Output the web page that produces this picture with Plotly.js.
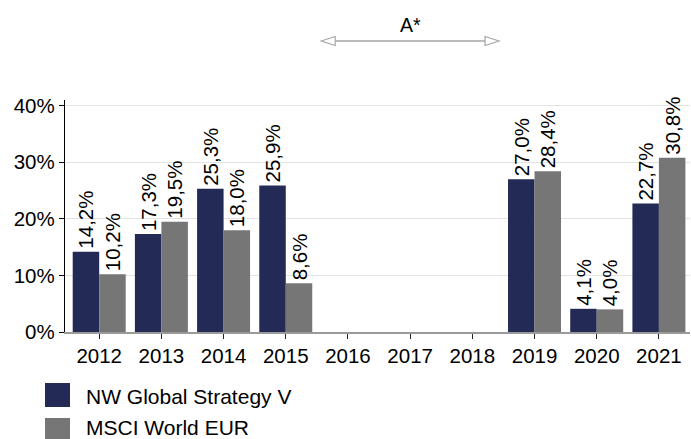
<!DOCTYPE html>
<html>
<head>
<meta charset="utf-8">
<script src="https://cdn.plot.ly/plotly-3.0.1.min.js"></script>
<style>html,body{margin:0;padding:0;background:#fff;}#chart{width:691px;height:439px;}</style>
</head>
<body>
<div id="chart"></div>
<script>
const years = ['2012','2013','2014','2015','2016','2017','2018','2019','2020','2021'];
const fundName = 'NW Global Strategy V';
const fundValues = [14.2, 17.3, 25.3, 25.9, null, null, null, 27.0, 4.1, 22.7];
const indexName = 'MSCI World EUR';
const indexValues = [10.2, 19.5, 18.0, 8.6, null, null, null, 28.4, 4.0, 30.8];
const yTicks = [0, 10, 20, 30, 40];
const yTickLabels = ['0%', '10%', '20%', '30%', '40%'];
const arrowLabel = 'A*';
const arrowFrom = '2016', arrowTo = '2018';

const NAVY = '#232a55', GRAY = '#767676';
const FONT = 'Arial, "Liberation Sans", sans-serif';
const FS = 20.5;
const xRange = [-0.55, 9.5];
const W = 691, H = 439, mL = 65, mR = 1, mT = 100, mB = 107;
const plotW = W - mL - mR, plotH = H - mT - mB;
function xPaperFromPx(px){ return (px - mL) / plotW; }
function yPaperFromPx(py){ return (H - mB - py) / plotH; }
function xPaperFromIdx(i){ return (i - xRange[0]) / (xRange[1] - xRange[0]); }

function barTrace(name, vals, color){
  return {
    type: 'bar', name: name, x: years, y: vals,
    marker: {color: color},
    texttemplate: '%{y:.1f}%', textposition: 'outside', textangle: -90,
    textfont: {family: FONT, size: FS, color: '#000'},
    constraintext: 'none', cliponaxis: false, hoverinfo: 'skip', showlegend: false
  };
}

const data = [barTrace(fundName, fundValues, NAVY), barTrace(indexName, indexValues, GRAY)];

// arrow spanning the missing years
const i0 = years.indexOf(arrowFrom), i1 = years.indexOf(arrowTo);
const mid = (i0 + i1) / 2, half = (i1 - i0) / 2 + 0.43;
const ax0 = xPaperFromIdx(mid - half), ax1 = xPaperFromIdx(mid + half);
const ay = yPaperFromPx(41);
const headW = 14 / plotW, headH = 4.5 / plotH;
const ARW = '#a6a6a6';

const shapes = [
  {type:'line', xref:'paper', yref:'paper', x0: ax0 + headW, x1: ax1 - headW, y0: ay, y1: ay, line:{color:ARW, width:1.5}},
  {type:'path', xref:'paper', yref:'paper', path:`M ${ax0} ${ay} L ${ax0+headW} ${ay+headH} L ${ax0+headW} ${ay-headH} Z`, line:{color:ARW, width:1.2}, fillcolor:'#fff'},
  {type:'path', xref:'paper', yref:'paper', path:`M ${ax1} ${ay} L ${ax1-headW} ${ay+headH} L ${ax1-headW} ${ay-headH} Z`, line:{color:ARW, width:1.2}, fillcolor:'#fff'},
  // legend swatches
  {type:'rect', xref:'paper', yref:'paper', x0:xPaperFromPx(45), x1:xPaperFromPx(70), y0:yPaperFromPx(383), y1:yPaperFromPx(407), fillcolor:NAVY, line:{width:0}},
  {type:'rect', xref:'paper', yref:'paper', x0:xPaperFromPx(45), x1:xPaperFromPx(70), y0:yPaperFromPx(418), y1:yPaperFromPx(445), fillcolor:GRAY, line:{width:0}}
];

const annotations = [
  {xref:'paper', yref:'paper', x: xPaperFromIdx(mid), y: yPaperFromPx(25), text: arrowLabel, showarrow:false, xanchor:'center', yanchor:'middle', font:{family:FONT, size:FS-1, color:'#000'}},
  {xref:'paper', yref:'paper', x: xPaperFromPx(85), y: yPaperFromPx(396), text: fundName, showarrow:false, xanchor:'left', yanchor:'middle', borderpad:0, font:{family:FONT, size:21, color:'#000'}},
  {xref:'paper', yref:'paper', x: xPaperFromPx(85), y: yPaperFromPx(427), text: indexName, showarrow:false, xanchor:'left', yanchor:'middle', borderpad:0, font:{family:FONT, size:21, color:'#000'}}
];

const layout = {
  width: W, height: H,
  margin: {l: mL, r: mR, t: mT, b: mB, pad: 0},
  paper_bgcolor: '#fff', plot_bgcolor: '#fff',
  separators: ',.',
  barmode: 'group', bargap: 0.148, bargroupgap: 0,
  showlegend: false,
  font: {family: FONT, size: FS, color: '#000'},
  xaxis: {
    type: 'category', range: xRange, showgrid: false, zeroline: false,
    showline: true, linecolor: '#9a9a9a', linewidth: 1.5,
    ticks: 'outside', ticklen: 5, tickcolor: '#222', tickwidth: 1,
    tickfont: {family: FONT, size: FS, color: '#000'}, fixedrange: true
  },
  yaxis: {
    range: [0, 41], tickmode: 'array', tickvals: yTicks, ticktext: yTickLabels,
    showgrid: true, gridcolor: '#e3e3e3', gridwidth: 1, zeroline: false,
    showline: true, linecolor: '#000', linewidth: 1.2,
    ticks: 'outside', ticklen: 5, tickcolor: '#000', tickwidth: 1,
    tickfont: {family: FONT, size: FS, color: '#000'}, fixedrange: true
  },
  shapes: shapes,
  annotations: annotations
};

Plotly.newPlot('chart', data, layout, {staticPlot: true, displayModeBar: false});
</script>
</body>
</html>
